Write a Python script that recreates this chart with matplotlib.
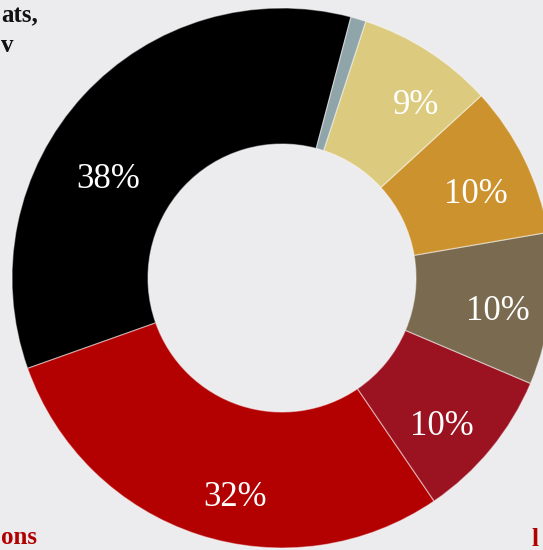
import numpy as np
import matplotlib
matplotlib.use("Agg")
import matplotlib.pyplot as plt

# shares shown in the donut (labels are the raw values)
values = [38, 32, 10, 10, 10, 9, 1]
labels = ["38%", "32%", "10%", "10%", "10%", "9%", ""]
colors = ["#000000", "#b30000", "#9b1221", "#7a6b50", "#cc922e", "#dccb7f", "#8fa5aa"]

# small nudges so labels sit where the original puts them
label_shift = [13, 6, -3.5, -2.3, -2.8, -5, 0]
label_rad = [0.74, 0.83, 0.81, 0.81, 0.78, 0.81, 0.8]

bg = "#ececef"
W, H = 543, 550
cx, cy, R = 282, H - 278, 270

fig = plt.figure(figsize=(W / 100, H / 100), dpi=100, facecolor=bg)
ax = fig.add_axes([0, 0, 1, 1])
ax.set_facecolor(bg)

wedges, _ = ax.pie(values, colors=colors, startangle=75.2, counterclock=True,
                   center=(cx, cy), radius=R,
                   wedgeprops=dict(width=R - 134, edgecolor=(1, 1, 1, 0.45), linewidth=0.9))

for w, lab, sh, rf in zip(wedges, labels, label_shift, label_rad):
    if not lab:
        continue
    ang = np.deg2rad((w.theta1 + w.theta2) / 2 + sh)
    ax.text(cx + rf * R * np.cos(ang), cy + rf * R * np.sin(ang), lab,
            ha="center", va="center", color="white", fontsize=25,
            family="Liberation Serif")

# caption fragments from the surrounding page
frag = dict(ha="left", va="baseline", fontsize=18, fontweight="bold",
            family="Liberation Serif")
ax.text(1, H - 22, "ats,", color="#111111", **frag)
ax.text(1, H - 52, "v", color="#111111", **frag)
ax.text(1, H - 544, "ons", color="#b00000", **frag)
ax.text(532, 4, "l", color="#b00000", **frag)

ax.set_xlim(0, W)
ax.set_ylim(0, H)
ax.set_aspect("auto")
ax.axis("off")

fig.savefig("out.png", dpi=100, facecolor=bg)
